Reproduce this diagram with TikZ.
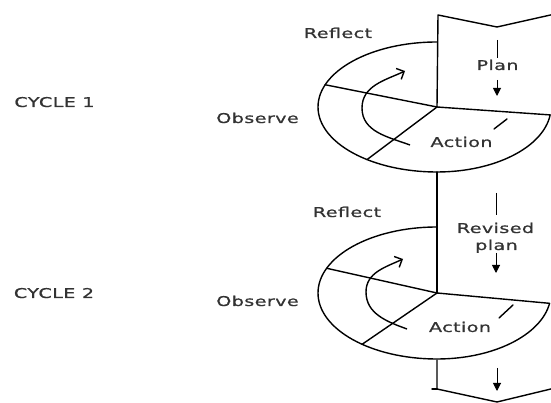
\documentclass[tikz,border=0pt]{standalone}
\usepackage{fontspec}
\setmainfont{DejaVu Sans}[FakeStretch=1.42,LetterSpace=3,FakeBold=0.8]
\usetikzlibrary{arrows.meta,calc}
\begin{document}
\begin{tikzpicture}[x=1pt,y=1pt,
  outline/.style={line width=1.4pt, line join=round, line cap=round},
  guide/.style={line width=1pt},
  guidearrow/.style={line width=1pt, -{Triangle[length=8pt,width=8pt]}},
  turn/.style={line width=1.4pt, -{Straight Barb[length=6pt,width=12pt]}},
  lbl/.style={inner sep=0pt, anchor=base, text=black!80,
              font=\fontsize{13.5}{17}\selectfont}]
\useasboundingbox (0,0) rectangle (551,403);

% centres of the two turns of the spiral
\coordinate (c1) at (437,296);
\coordinate (c2) at (437,110);

% banner at the top
\coordinate (topL) at (438,388);
\coordinate (topM) at (497,376);
\coordinate (topR) at (555,389);
\draw[outline] (topR) -- (topM) -- (topL) -- (c1);

% first turn
\coordinate (t1) at ($(c1)+(0,65)$);
\coordinate (b1) at ($(c1)+(0,-65)$);
\draw[outline] (t1) arc[start angle=90,end angle=270,x radius=119pt,y radius=65pt]
  arc[start angle=270,end angle=353,x radius=114pt,y radius=65pt] coordinate (r1) -- (c1);
\draw[outline] (c1) -- ($(c1)+(160:119pt and 65pt)$);
\draw[outline] (c1) -- ($(c1)+(234:119pt and 65pt)$);
\draw[outline] (507,284) -- (494,274);

% trunk between the turns
\draw[outline] (b1) -- (c2);

% second turn
\coordinate (t2) at ($(c2)+(0,66)$);
\coordinate (b2) at ($(c2)+(0,-67)$);
\draw[outline] (t2) arc[start angle=90,end angle=270,x radius=119pt,y radius=66pt]
  arc[start angle=270,end angle=351,x radius=114pt,y radius=66pt] coordinate (r2) -- (c2);
\draw[outline] (c2) -- ($(c2)+(158:119pt and 66pt)$);
\draw[outline] (c2) -- ($(c2)+(231:119pt and 66pt)$);
\draw[outline] (513,98) -- (499,85);

% banner at the bottom
\coordinate (botL) at (437,14);
\coordinate (botM) at (497,1);
\coordinate (botR) at (555,15);
\draw[outline] (b2) -- (botL) -- (botM) -- (botR);
\draw[outline] (botL) -- ++(-5,0);

% turning arrows inside each turn
\coordinate (a1s) at (410,258);
\coordinate (a1m) at (362,295);
\coordinate (a1e) at (405,332);
\draw[turn] (a1s) to[out=160,in=270] (a1m) to[out=90,in=205] (a1e);
\coordinate (a2s) at (407,74);
\coordinate (a2m) at (366,111);
\coordinate (a2e) at (403,144);
\draw[turn] (a2s) to[out=160,in=270] (a2m) to[out=90,in=205] (a2e);

% labels
\node[lbl] (cyc1) at (54.5,296) {CYCLE 1};
\node[lbl] (cyc2) at (54,105) {CYCLE 2};
\node[lbl] (obs1) at (257.5,280) {Observe};
\node[lbl] (obs2) at (257.5,97) {Observe};
\node[lbl] (ref1) at (338,365) {Reflect};
\node[lbl] (ref2) at (347,186) {Reflect};
\node[lbl] (act1) at (461.5,256) {Action};
\node[lbl] (act2) at (460,71) {Action};
\node[lbl] (plan) at (497.5,333) {Plan};
\node[lbl] (rev) at (495.5,170) {Revised};
\node[lbl] (revp) at (496.5,153) {plan};

% downward guides in the banner
\coordinate (p1a) at (497,363);
\coordinate (p1b) at (497,345);
\coordinate (p1c) at (497,323);
\coordinate (p1d) at (497,307);
\draw[guide] (p1a) -- (p1b);
\draw[guidearrow] (p1c) -- (p1d);
\coordinate (p2a) at (496,210);
\coordinate (p2b) at (496,188);
\coordinate (p2c) at (496,150);
\coordinate (p2d) at (496,130);
\draw[guide] (p2a) -- (p2b);
\draw[guidearrow] (p2c) -- (p2d);
\coordinate (p3a) at (497,35);
\coordinate (p3b) at (497,12);
\draw[guidearrow] (p3a) -- (p3b);
\end{tikzpicture}
\end{document}
